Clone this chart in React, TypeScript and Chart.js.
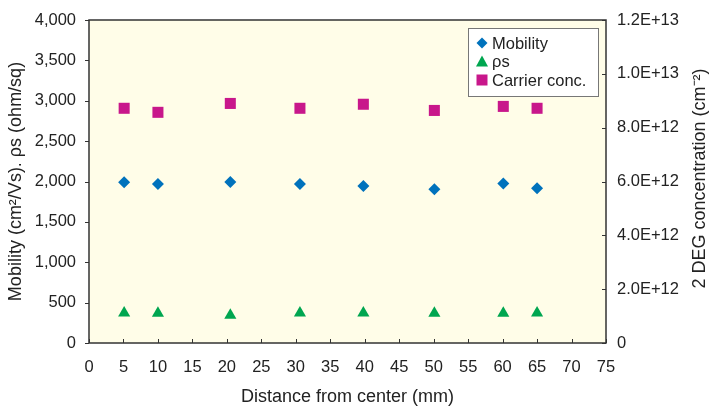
import React, { useEffect, useRef } from "react";
import { Chart, registerables } from "chart.js";

Chart.register(...registerables);

const distances = [5.1, 10, 20.5, 30.6, 39.8, 50.1, 60.1, 65];
const mobility = [1990, 1970, 1995, 1970, 1945, 1905, 1975, 1915];
const sheetRes = [370, 368, 343, 372, 370, 368, 368, 370];
const carrierConc = [8.72e12, 8.57e12, 8.9e12, 8.72e12, 8.87e12, 8.64e12, 8.79e12, 8.72e12];

const seriesLabels = ["Mobility", "\u03c1s", "Carrier conc."];
const seriesColors = ["#0072BC", "#00A650", "#C8178B"];
const xTitle = "Distance from center (mm)";
const yTitle = "Mobility (cm\u00b2/Vs). \u03c1s (ohm/sq)";
const y2Title = "2 DEG concentration (cm\u207b\u00b2)";

const FONT = "'Liberation Sans', Arial, sans-serif";
const TEXT = "#222222";

const pts = (ys: number[]) => distances.map((x, i) => ({ x, y: ys[i] }));

const framePlugin = {
  id: "frame",
  beforeDraw(chart: any) {
    const { ctx, chartArea: a } = chart;
    ctx.save();
    ctx.fillStyle = "#FFFDE8";
    ctx.fillRect(a.left, a.top, a.right - a.left, a.bottom - a.top);
    ctx.restore();
  },
  afterDraw(chart: any) {
    const { ctx, chartArea: a, scales } = chart;
    ctx.save();
    ctx.strokeStyle = "#333333";
    ctx.lineWidth = 1.5;
    ctx.strokeRect(a.left, a.top, a.right - a.left, a.bottom - a.top);
    ctx.lineWidth = 1;
    ctx.beginPath();
    scales.x.ticks.forEach((t: any) => {
      const px = Math.round(scales.x.getPixelForValue(t.value)) + 0.5;
      ctx.moveTo(px, a.bottom);
      ctx.lineTo(px, a.bottom - 4);
    });
    scales.y.ticks.forEach((t: any) => {
      const py = Math.round(scales.y.getPixelForValue(t.value)) + 0.5;
      ctx.moveTo(a.left, py);
      ctx.lineTo(a.left - 4, py);
    });
    scales.y2.ticks.forEach((t: any) => {
      const py = Math.round(scales.y2.getPixelForValue(t.value)) + 0.5;
      ctx.moveTo(a.right, py);
      ctx.lineTo(a.right - 4, py);
    });
    ctx.stroke();

    // right axis title, reading bottom to top
    ctx.save();
    ctx.translate(700, (a.top + a.bottom) / 2 - 3);
    ctx.rotate(-Math.PI / 2);
    ctx.font = `18px ${FONT}`;
    ctx.fillStyle = TEXT;
    ctx.textAlign = "center";
    ctx.textBaseline = "middle";
    ctx.fillText(y2Title, 0, 0);
    ctx.restore();

    // legend box
    const bx = 468, by = 28, bw = 130, bh = 68;
    ctx.fillStyle = "#FFFFFF";
    ctx.fillRect(bx, by, bw, bh);
    ctx.strokeStyle = "#777777";
    ctx.lineWidth = 1;
    ctx.strokeRect(bx + 0.5, by + 0.5, bw, bh);
    ctx.font = `16.5px ${FONT}`;
    ctx.textBaseline = "middle";
    ctx.textAlign = "left";
    chart.data.datasets.forEach((ds: any, i: number) => {
      const cy = by + 15 + i * 18.5;
      const cx = bx + 14;
      ctx.fillStyle = ds.backgroundColor;
      ctx.beginPath();
      if (ds.pointStyle === "rectRot") {
        ctx.moveTo(cx, cy - 5.5);
        ctx.lineTo(cx + 5.5, cy);
        ctx.lineTo(cx, cy + 5.5);
        ctx.lineTo(cx - 5.5, cy);
      } else if (ds.pointStyle === "triangle") {
        ctx.moveTo(cx, cy - 6);
        ctx.lineTo(cx + 6, cy + 5);
        ctx.lineTo(cx - 6, cy + 5);
      } else {
        ctx.rect(cx - 5.5, cy - 5.5, 11, 11);
      }
      ctx.closePath();
      ctx.fill();
      ctx.fillStyle = TEXT;
      ctx.fillText(ds.label, bx + 24, cy + 1);
    });
    ctx.restore();
  },
};

export default function App() {
  const ref = useRef<HTMLCanvasElement>(null);
  useEffect(() => {
    document.body.style.margin = "0";
    const chart = new Chart(ref.current!, {
      type: "scatter",
      data: {
        datasets: [
          {
            label: seriesLabels[0],
            data: pts(mobility),
            yAxisID: "y",
            pointStyle: "rectRot",
            pointRadius: 6,
            backgroundColor: seriesColors[0],
            borderColor: seriesColors[0],
            borderWidth: 0,
          },
          {
            label: seriesLabels[1],
            data: pts(sheetRes),
            yAxisID: "y",
            pointStyle: "triangle",
            pointRadius: 7,
            backgroundColor: seriesColors[1],
            borderColor: seriesColors[1],
            borderWidth: 0,
          },
          {
            label: seriesLabels[2],
            data: pts(carrierConc),
            yAxisID: "y2",
            pointStyle: "rect",
            pointRadius: 7.8,
            backgroundColor: seriesColors[2],
            borderColor: seriesColors[2],
            borderWidth: 0,
          },
        ],
      },
      options: {
        responsive: false,
        animation: false,
        devicePixelRatio: 1,
        layout: { padding: { top: 20, left: 0, right: 0, bottom: 0 } },
        plugins: { legend: { display: false }, tooltip: { enabled: false } },
        scales: {
          x: {
            type: "linear",
            min: 0,
            max: 75,
            grid: { display: false },
            border: { display: false },
            ticks: { stepSize: 5, color: TEXT, font: { family: FONT, size: 16.5 }, padding: 7, maxRotation: 0 },
            title: { display: true, text: xTitle, color: TEXT, font: { family: FONT, size: 18 }, padding: { top: 4, bottom: 0 } },
            afterFit: (s: any) => { s.height = 65; },
          },
          y: {
            type: "linear",
            position: "left",
            min: 0,
            max: 4000,
            grid: { display: false },
            border: { display: false },
            ticks: {
              stepSize: 500,
              color: TEXT,
              font: { family: FONT, size: 16.5 },
              padding: 5,
              callback: (v: any) => Number(v).toLocaleString("en-US"),
            },
            title: { display: true, text: yTitle, color: TEXT, font: { family: FONT, size: 18 }, padding: { top: 5, bottom: 0 } },
            afterFit: (s: any) => { s.width = 89; },
          },
          y2: {
            type: "linear",
            position: "right",
            min: 0,
            max: 1.2e13,
            grid: { display: false },
            border: { display: false },
            ticks: {
              stepSize: 2e12,
              color: TEXT,
              font: { family: FONT, size: 16.5 },
              padding: 3,
              callback: (v: any) => (Number(v) === 0 ? "0" : Number(v).toExponential(1).toUpperCase()),
            },
            afterFit: (s: any) => { s.width = 105; },
          },
        },
      },
      plugins: [framePlugin],
    });
    return () => chart.destroy();
  }, []);
  return (
    <div style={{ width: 711, height: 408 }}>
      <canvas ref={ref} width={711} height={408} />
    </div>
  );
}
